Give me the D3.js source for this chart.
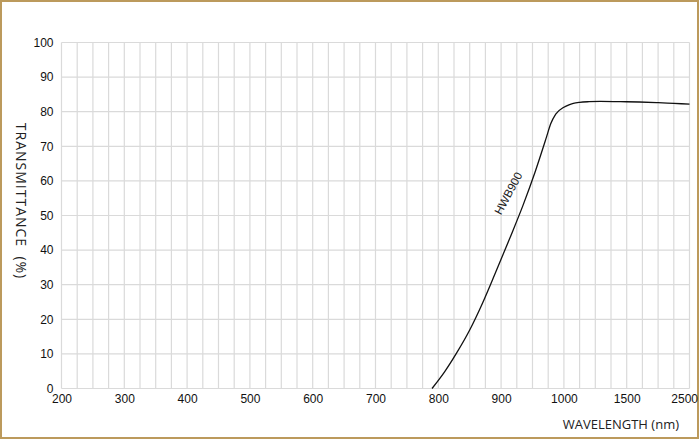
<!DOCTYPE html>
<html>
<head>
<meta charset="utf-8">
<script src="https://cdn.jsdelivr.net/npm/d3@7"></script>
<style>
  body { margin: 0; background: #fff; }
  svg { display: block; }
</style>
</head>
<body>
<div id="chart-area"></div>
<script>
// Data (wavelength in nm, transmittance in %)
var xTicks = [200, 300, 400, 500, 600, 700, 800, 900, 1000, 1500, 2500];
var yTicks = [0, 10, 20, 30, 40, 50, 60, 70, 80, 90, 100];
var wavelength = [790, 810, 829, 850, 870, 890, 914, 935, 954, 972, 979, 987, 1000, 1040, 1075, 1125, 1200, 1290, 1450, 1700, 2000, 2250, 2500];
var transmit   = [0, 4.8, 10.2, 16.9, 24.5, 33, 43.5, 53, 62.5, 72.5, 76.5, 79.3, 81.3, 82.0, 82.4, 82.7, 82.9, 83.0, 82.9, 82.8, 82.6, 82.4, 82.2];
var curveName = "HWB900";

var W = 700, H = 440;
var margin = { left: 61.5, right: 10.5, top: 42.5, bottom: 51.5 };
var width = W - margin.left - margin.right,
    height = H - margin.top - margin.bottom;

var svg = d3.select("#chart-area").append("svg")
    .attr("width", W)
    .attr("height", H);

// frame
svg.append("rect")
    .attr("x", 1).attr("y", 1)
    .attr("width", W - 3).attr("height", H - 3)
    .attr("fill", "none")
    .attr("stroke", "#bc9a5c")
    .attr("stroke-width", 2);

var g = svg.append("g")
    .attr("transform", "translate(" + margin.left + "," + margin.top + ")");

// x axis is piecewise: every labelled tick is evenly spaced
var step = width / (xTicks.length - 1);
var x = d3.scaleLinear()
    .domain(xTicks)
    .range(xTicks.map(function(d, i) { return i * step; }));
var y = d3.scaleLinear().domain([0, 100]).range([height, 0]);

// grid: 4 columns per labelled interval
var cols = (xTicks.length - 1) * 4;
g.append("g").selectAll("line")
    .data(d3.range(cols + 1))
    .enter().append("line")
    .attr("x1", function(d) { return d * width / cols; })
    .attr("x2", function(d) { return d * width / cols; })
    .attr("y1", 0).attr("y2", height)
    .attr("stroke", "#dadada")
    .attr("stroke-width", 1.2);

g.append("g").selectAll("line")
    .data(yTicks)
    .enter().append("line")
    .attr("x1", 0).attr("x2", width)
    .attr("y1", function(d) { return y(d); })
    .attr("y2", function(d) { return y(d); })
    .attr("stroke", "#dadada")
    .attr("stroke-width", 1.2);

// axes (labels only, lines are the grid)
var xAxis = g.append("g")
    .attr("transform", "translate(0," + height + ")")
    .call(d3.axisBottom(x).tickValues(xTicks).tickSize(0).tickPadding(6).tickFormat(d3.format("d")));
var yAxis = g.append("g")
    .call(d3.axisLeft(y).tickValues(yTicks).tickSize(0).tickPadding(8));
[xAxis, yAxis].forEach(function(a) {
  a.select(".domain").remove();
  a.selectAll("text")
    .attr("fill", "#111")
    .style("font-family", "'Liberation Sans', Arial, sans-serif")
    .style("font-size", "12px");
});
// last label sits against the frame
xAxis.selectAll(".tick text")
    .filter(function(d) { return d === 2500; })
    .attr("text-anchor", "end")
    .attr("dx", 8);

// curve
var data = wavelength.map(function(w, i) { return { w: w, t: transmit[i] }; });
var line = d3.line()
    .x(function(d) { return x(d.w); })
    .y(function(d) { return y(d.t); })
    .curve(d3.curveMonotoneX);

g.append("path")
    .attr("d", line(data))
    .attr("fill", "none")
    .attr("stroke", "#111")
    .attr("stroke-width", 1.3);

// curve label
g.append("text")
    .attr("transform", "translate(" + (508.3 - margin.left) + "," + (193.3 - margin.top) + ") rotate(-62)")
    .attr("text-anchor", "middle")
    .attr("dy", "0.35em")
    .style("font-family", "'Liberation Sans Narrow', 'Liberation Sans', sans-serif")
    .style("font-size", "11.5px")
    .attr("fill", "#222")
    .text(curveName);

// axis titles
svg.append("text")
    .attr("x", 679).attr("y", 429)
    .attr("text-anchor", "end")
    .style("font-family", "'Open Sans', sans-serif")
    .style("font-size", "13px")
    .attr("fill", "#222")
    .text("WAVELENGTH (nm)");

svg.append("text")
    .attr("transform", "translate(16,201) rotate(90)")
    .attr("text-anchor", "middle")
    .style("font-family", "'Open Sans', sans-serif")
    .style("font-size", "14px")
    .style("letter-spacing", "1px")
    .attr("fill", "#222")
    .attr("xml:space", "preserve")
    .text("TRANSMITTANCE  (%)");
</script>
</body>
</html>
